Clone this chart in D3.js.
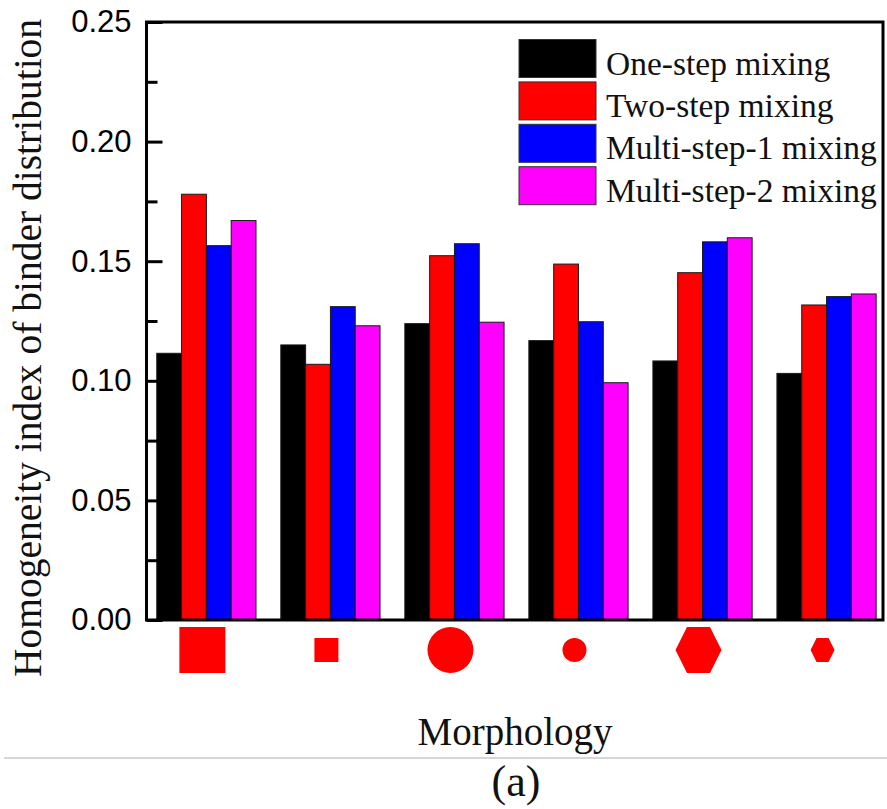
<!DOCTYPE html>
<html>
<head>
<meta charset="utf-8">
<script src="https://cdn.jsdelivr.net/npm/d3@7"></script>
<style>
  html, body { margin: 0; padding: 0; background: #fff; }
  svg { display: block; }
</style>
</head>
<body>
<svg id="chart" width="887" height="809"></svg>
<script>
// ---------- data ----------
const categories = ["Large square", "Small square", "Large circle", "Small circle", "Large hexagon", "Small hexagon"];
const shapeKinds = ["square", "square", "circle", "circle", "hexagon", "hexagon"];
const shapeScales = ["large", "small", "large", "small", "large", "small"];
const seriesNames = ["One-step mixing", "Two-step mixing", "Multi-step-1 mixing", "Multi-step-2 mixing"];
const oneStep   = [0.1115, 0.1150, 0.1239, 0.1168, 0.1083, 0.1031];
const twoStep   = [0.1780, 0.1069, 0.1523, 0.1488, 0.1452, 0.1317];
const multiStep1 = [0.1565, 0.1310, 0.1573, 0.1247, 0.1581, 0.1352];
const multiStep2 = [0.1670, 0.1230, 0.1245, 0.0992, 0.1598, 0.1363];
const yTicks = [0.00, 0.05, 0.10, 0.15, 0.20, 0.25];
const yMinorTicks = [0.025, 0.075, 0.125, 0.175, 0.225];
const yTitle = "Homogeneity index of binder distribution";
const xTitle = "Morphology";
const panelLabel = "(a)";

const seriesValues = [oneStep, twoStep, multiStep1, multiStep2];
const colors = ["#000000", "#ff0000", "#0000ff", "#ff00ff"];

// ---------- layout ----------
const svg = d3.select("#chart");
const plotLeft = 146.5, plotRight = 883, plotTop = 22, plotBottom = 620;

const y = d3.scaleLinear().domain([0, 0.25]).range([plotBottom, plotTop]);
const x0 = d3.scaleBand().domain(categories).range([plotLeft, plotRight])
  .paddingInner(0.2).paddingOuter(0.069).align(0.6);
const x1 = d3.scaleBand().domain(seriesNames).range([0, x0.bandwidth()]).padding(0);

// ---------- bars ----------
const rows = categories.map((c, i) => ({
  cat: c,
  vals: seriesNames.map((s, j) => ({ s, j, v: seriesValues[j][i] }))
}));

const groups = svg.append("g").selectAll("g").data(rows).join("g")
  .attr("transform", d => `translate(${x0(d.cat)},0)`);
groups.selectAll("rect").data(d => d.vals).join("rect")
  .attr("x", d => x1(d.s))
  .attr("y", d => y(d.v))
  .attr("width", x1.bandwidth())
  .attr("height", d => y(0) - y(d.v))
  .attr("fill", d => colors[d.j])
  .attr("stroke", "#1a1a1a")
  .attr("stroke-width", 1);

// ---------- frame & axes ----------
svg.append("rect")
  .attr("x", plotLeft).attr("y", plotTop)
  .attr("width", plotRight - plotLeft).attr("height", plotBottom - plotTop)
  .attr("fill", "none").attr("stroke", "#000").attr("stroke-width", 3);

const yAxis = svg.append("g").attr("transform", `translate(${plotLeft},0)`)
  .call(d3.axisLeft(y).tickValues(yTicks).tickFormat(d3.format(".2f"))
    .tickSizeInner(-16).tickSizeOuter(0).tickPadding(15));
yAxis.select(".domain").remove();
yAxis.selectAll(".tick line").attr("stroke", "#000").attr("stroke-width", 3);
yAxis.selectAll(".tick text")
  .attr("font-family", "'Liberation Sans', Arial, sans-serif")
  .attr("font-size", 31).attr("fill", "#000");

const yMinor = svg.append("g").attr("transform", `translate(${plotLeft},0)`)
  .call(d3.axisLeft(y).tickValues(yMinorTicks).tickFormat("")
    .tickSizeInner(-11).tickSizeOuter(0));
yMinor.select(".domain").remove();
yMinor.selectAll(".tick line").attr("stroke", "#000").attr("stroke-width", 3);

// ---------- shape category labels ----------
const sizeOf = { large: 46, small: 24 };
const shapeY = 650;
const shapeG = svg.append("g");
categories.forEach((c, i) => {
  const cx = x0(c) + x0.bandwidth() / 2 - 4;
  const s = sizeOf[shapeScales[i]];
  const kind = shapeKinds[i];
  if (kind === "square") {
    shapeG.append("rect").attr("x", cx - s / 2).attr("y", shapeY - s / 2)
      .attr("width", s).attr("height", s).attr("fill", "#ff0000");
  } else if (kind === "circle") {
    shapeG.append("circle").attr("cx", cx).attr("cy", shapeY).attr("r", s / 2)
      .attr("fill", "#ff0000");
  } else {
    const w = s, h = s;
    const pts = [[-w / 2, 0], [-w / 4, -h / 2], [w / 4, -h / 2], [w / 2, 0], [w / 4, h / 2], [-w / 4, h / 2]];
    shapeG.append("polygon")
      .attr("points", pts.map(p => `${cx + p[0]},${shapeY + p[1]}`).join(" "))
      .attr("fill", "#ff0000");
  }
});

// ---------- legend ----------
const legend = svg.append("g");
seriesNames.forEach((name, j) => {
  const ty = 39.5 + j * 42.4;
  legend.append("rect").attr("x", 519).attr("y", ty).attr("width", 77).attr("height", 38)
    .attr("fill", colors[j]).attr("stroke", "#333").attr("stroke-width", 1);
  legend.append("text").attr("x", 606).attr("y", ty + 35)
    .attr("font-family", "'Liberation Serif', 'Times New Roman', serif")
    .attr("font-size", 33.5).attr("fill", "#111").text(name);
});

// ---------- titles ----------
svg.append("text")
  .attr("transform", `translate(41,348) rotate(-90)`)
  .attr("text-anchor", "middle")
  .attr("font-family", "'Liberation Serif', 'Times New Roman', serif")
  .attr("font-size", 39.5).attr("fill", "#111").text(yTitle);

svg.append("text")
  .attr("x", 515).attr("y", 745).attr("text-anchor", "middle")
  .attr("font-family", "'Liberation Serif', 'Times New Roman', serif")
  .attr("font-size", 39).attr("fill", "#111").text(xTitle);

svg.append("line").attr("x1", 4).attr("x2", 887).attr("y1", 758).attr("y2", 758)
  .attr("stroke", "#c8c8c8").attr("stroke-width", 1.5);

svg.append("text")
  .attr("x", 516).attr("y", 796).attr("text-anchor", "middle")
  .attr("font-family", "'Liberation Serif', 'Times New Roman', serif")
  .attr("font-size", 44).attr("fill", "#111").text(panelLabel);
</script>
</body>
</html>
